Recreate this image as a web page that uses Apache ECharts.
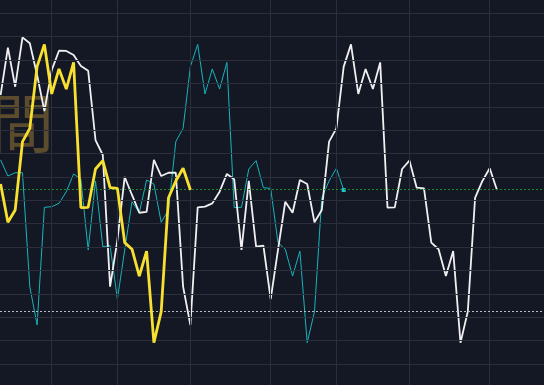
<!DOCTYPE html>
<html>
<head>
<meta charset="utf-8">
<script src="https://cdn.jsdelivr.net/npm/echarts@6/dist/echarts.min.js"></script>
<style>
html,body{margin:0;padding:0;background:#141824;}
#c{width:544px;height:385px;}
</style>
</head>
<body>
<div id="c"></div>
<script>
// Series values (index = time step)
var whiteValues = [115.0,135.3,118.6,139.7,137.2,123.6,108.2,125.7,134.0,133.9,132.2,127.5,125.4,95.8,89.4,33.1,53.0,80.0,72.3,64.7,65.1,87.3,80.4,81.8,81.8,33.1,16.7,67.0,67.3,68.7,73.7,81.3,79.0,48.8,78.3,50.2,50.6,27.7,48.8,69.4,64.7,78.7,77.0,60.6,65.9,95.1,100.8,127.2,136.7,115.5,126.2,117.6,129.0,66.9,67.0,83.4,87.0,75.4,75.1,51.9,49.1,37.6,48.3,9.1,22.4,71.1,78.3,83.7,74.4];
var cyanValues = [87.3,80.4,81.8,81.8,33.1,16.7,67.0,67.3,68.7,73.7,81.3,79.0,48.8,78.3,50.2,50.6,27.7,48.8,69.4,64.7,78.7,77.0,60.6,65.9,95.1,100.8,127.2,136.7,115.5,126.2,117.6,129.0,66.9,67.0,83.4,87.0,75.4,75.1,51.9,49.1,37.6,48.3,9.1,22.4,71.1,78.3,83.7,74.4];
var yellowValues = [77.0,60.6,65.9,95.1,100.8,127.2,136.7,115.5,126.2,117.6,129.0,66.9,67.0,83.4,87.0,75.4,75.1,51.9,49.1,37.6,48.3,9.1,22.4,71.1,78.3,83.7,74.4];
var verticalTicks = [7,16,26,37,46,56,67];
var horizontalTicks = [0,10,20,30,40,50,60,70,80,90,100,110,120,130,140,150];
var refLevels = [74.6, 22.4];
var watermark = '間';

function toXY(arr){ return arr.map(function(v,i){ return [i, v]; }); }

var chart = echarts.init(document.getElementById('c'), null, {renderer:'canvas'});
var lastCyan = cyanValues.length - 1;
var gridStyle = {color:'#2b2f3b', width:1, type:'solid'};
chart.setOption({
  backgroundColor: '#141824',
  animation: false,
  graphic: [{
    type: 'text',
    x: 22, y: 123, z: 1,
    style: {
      text: watermark,
      font: '64px "Noto Sans CJK TC"',
      fill: '#5b4c2e',
      textAlign: 'center',
      textVerticalAlign: 'middle'
    }
  }],
  grid: {left: 0, right: 0, top: 0, bottom: 0},
  xAxis: {
    type: 'value', min: -0.082, max: 74.44,
    axisLine: {show:false}, axisTick: {show:false}, axisLabel: {show:false},
    splitLine: {show:false}
  },
  yAxis: {
    type: 'value', min: -8.98, max: 155.69,
    axisLine: {show:false}, axisTick: {show:false}, axisLabel: {show:false},
    splitLine: {show:false}
  },
  series: [
    {
      type: 'line', data: [], z: 1, silent: true,
      markLine: {
        silent: true, symbol: 'none', label: {show:false}, animation:false,
        lineStyle: gridStyle,
        data: verticalTicks.map(function(t){ return {xAxis: t}; })
          .concat(horizontalTicks.map(function(t){ return {yAxis: t}; }))
      }
    },
    {
      type: 'line', data: [], z: 2, silent: true,
      markLine: {
        silent: true, symbol: 'none', label: {show:false}, animation:false,
        data: [
          {yAxis: refLevels[0], lineStyle: {color:'#1f8a2c', width:1, type:[2,2]}},
          {yAxis: refLevels[1], lineStyle: {color:'#b8bcc4', width:1, type:[2,2]}}
        ]
      }
    },
    {
      name: 'cyan', type: 'line', z: 3, data: toXY(cyanValues),
      showSymbol: true, symbol: 'rect',
      symbolSize: function(v, p){ return p.dataIndex === lastCyan ? 4 : 0; },
      itemStyle: {color:'#1fc4c8'},
      lineStyle: {color:'#17b4ba', width:1}
    },
    {
      name: 'white', type: 'line', z: 4, data: toXY(whiteValues),
      showSymbol: false,
      lineStyle: {color:'#f0f0f2', width:1.8}
    },
    {
      name: 'yellow', type: 'line', z: 5, data: toXY(yellowValues),
      showSymbol: false,
      lineStyle: {color:'#f8e030', width:2.8}
    }
  ]
});
</script>
</body>
</html>
